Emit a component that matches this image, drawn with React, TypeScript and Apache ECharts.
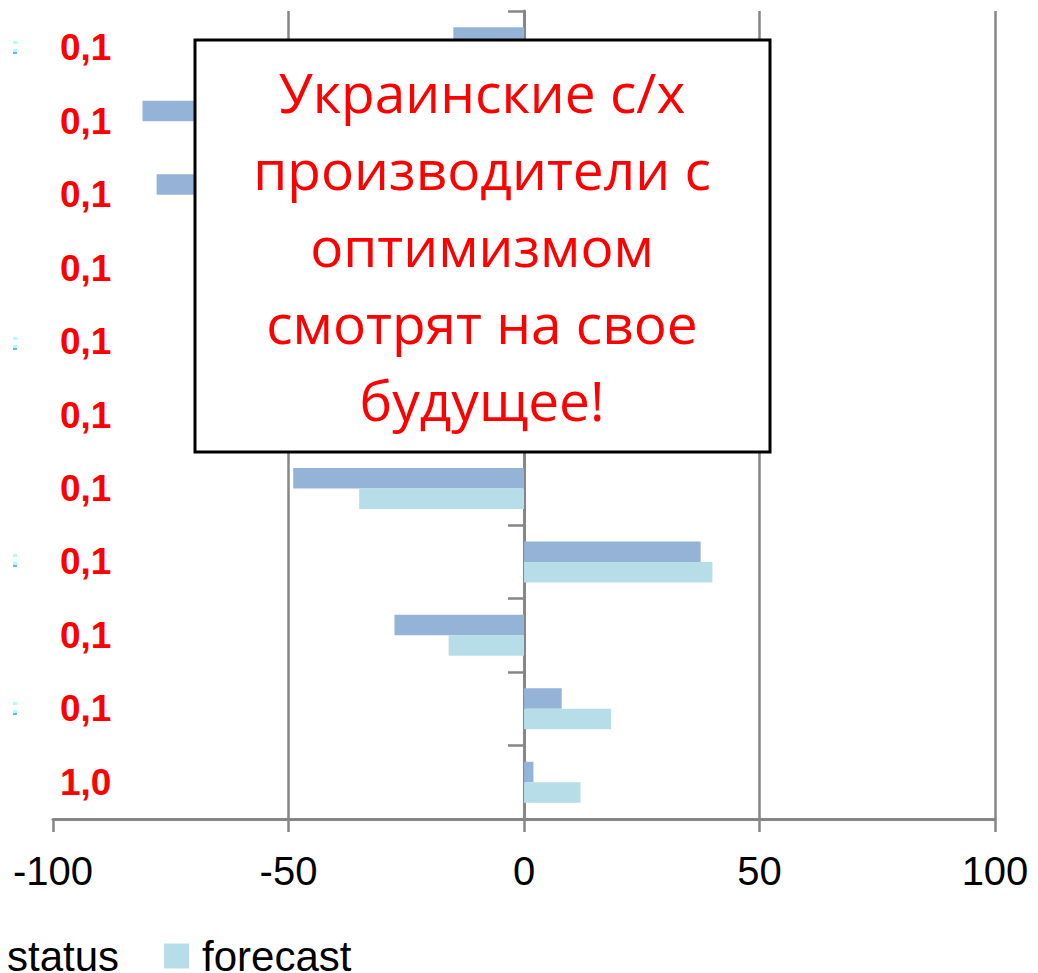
import React, { useEffect, useRef } from "react";
import * as echarts from "echarts";

const categories = ["0,1", "0,1", "0,1", "0,1", "0,1", "0,1", "0,1", "0,1", "0,1", "0,1", "1,0"];
const statusValues = [-15, -81, -78, -40, -20, -30, -49, 37.5, -27.5, 8, 2];
const forecastValues = [-10, -60, -55, -30, -15, -20, -35, 40, -16, 18.5, 12];
const seriesNames = ["status", "forecast"];
const xMin = -100;
const xMax = 100;
const xInterval = 50;
const noteLines = ["Украинские с/х", "производители с", "оптимизмом", "смотрят на свое", "будущее!"];

const AXIS_GRAY = "#868686";

export default function App() {
  const ref = useRef<HTMLDivElement>(null);
  useEffect(() => {
    if (!ref.current) return;
    const chart = echarts.init(ref.current, null, { renderer: "svg" });
    const dotSites = [47, 343, 560, 708];
    const dots: any[] = [];
    dotSites.forEach((y) => {
      dots.push({ type: "rect", shape: { x: 13, y: y - 6, width: 4, height: 3 }, style: { fill: "#b0fbff" } });
      dots.push({ type: "rect", shape: { x: 13, y: y + 2, width: 4, height: 3 }, style: { fill: "#b0fbff" } });
      dots.push({ type: "rect", shape: { x: 13, y: y + 5, width: 4, height: 2 }, style: { fill: "#64b4ff" } });
    });
    chart.setOption({
      animation: false,
      grid: { left: 53, right: 43, top: 11, bottom: 154, containLabel: false },
      legend: {
        data: seriesNames,
        left: -36,
        top: 930,
        icon: "rect",
        itemWidth: 25,
        itemHeight: 25,
        itemGap: 45,
        textStyle: {
          fontFamily: "Liberation Sans",
          fontSize: 42,
          color: "#000",
          padding: [0, 0, 0, 8],
        },
      },
      xAxis: {
        type: "value",
        min: xMin,
        max: xMax,
        interval: xInterval,
        axisLine: { show: true, onZero: false, lineStyle: { color: AXIS_GRAY, width: 3 } },
        axisTick: { show: true, length: 13, lineStyle: { color: AXIS_GRAY, width: 2.5 } },
        axisLabel: {
          margin: 32,
          fontFamily: "Liberation Sans",
          fontSize: 40,
          color: "#000",
        },
        splitLine: {
          show: true,
          showMinLine: false,
          lineStyle: { color: AXIS_GRAY, width: 2.5 },
        },
      },
      yAxis: [
        {
          type: "category",
          data: categories,
          inverse: true,
          axisLine: { show: true, onZero: true, lineStyle: { color: AXIS_GRAY, width: 3 } },
          axisTick: { show: true, length: 16, lineStyle: { color: AXIS_GRAY, width: 2.5 } },
          axisLabel: { show: false },
          splitLine: { show: false },
        },
        {
          type: "category",
          data: categories,
          inverse: true,
          position: "left",
          axisLine: { show: false },
          axisTick: { show: false },
          axisLabel: {
            inside: true,
            margin: 7,
            fontFamily: "Liberation Sans",
            fontWeight: "bold",
            fontSize: 37,
            color: "#ff0000",
          },
          splitLine: { show: false },
        },
      ],
      series: [
        {
          name: seriesNames[0],
          type: "bar",
          yAxisIndex: 0,
          data: statusValues,
          barWidth: 20.5,
          barGap: "0%",
          itemStyle: { color: "#95B3D7" },
        },
        {
          name: seriesNames[1],
          type: "bar",
          yAxisIndex: 0,
          data: forecastValues,
          barWidth: 20.5,
          barGap: "0%",
          itemStyle: { color: "#B7DEE8" },
        },
      ],
      graphic: {
        elements: [
          ...dots,
          {
            type: "rect",
            z: 100,
            zlevel: 0,
            shape: { x: 195, y: 40, width: 575, height: 412 },
            style: { fill: "#ffffff", stroke: "#000000", lineWidth: 3 },
          },
          {
            type: "text",
            z: 101,
            zlevel: 0,
            x: 482,
            y: 245,
            style: {
              text: noteLines.join("\n"),
              fontFamily: "Open Sans",
              fontSize: 55,
              lineHeight: 77,
              fill: "#ff0000",
              textAlign: "center",
              textVerticalAlign: "middle",
            },
          },
        ],
      },
    });
    return () => chart.dispose();
  }, []);
  return (
    <div
      ref={ref}
      style={{ position: "fixed", left: 0, top: 0, width: 1038, height: 973, background: "#fff" }}
    />
  );
}
